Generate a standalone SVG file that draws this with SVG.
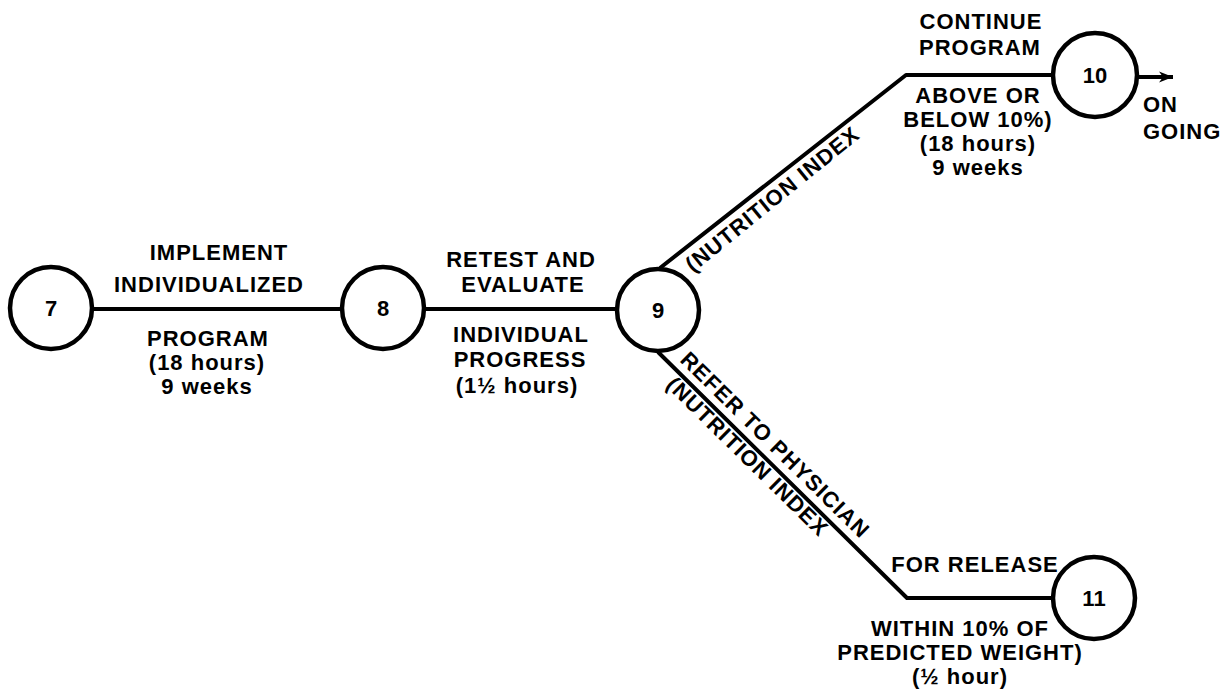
<svg xmlns="http://www.w3.org/2000/svg" width="1224" height="692" viewBox="0 0 1224 692">
  <style>
    .bg { fill: #ffffff; }
    .node { fill: #ffffff; stroke: #000000; stroke-width: 4.5; }
    .num { font-family: "Liberation Sans", Arial, sans-serif; font-weight: bold; font-size: 22px; fill: #000000; text-anchor: middle; }
    .edge { fill: none; stroke: #000000; stroke-width: 4; stroke-linejoin: round; stroke-linecap: butt; }
    .lbl { font-family: "Liberation Sans", Arial, sans-serif; font-weight: bold; font-size: 22px; letter-spacing: 1px; fill: #000000; text-anchor: middle; }
    .lbl-start { text-anchor: start; }
  </style>
  <defs>
    <marker id="arrowhead" markerWidth="16" markerHeight="14" refX="14" refY="7" orient="auto" markerUnits="userSpaceOnUse">
      <path d="M0,1.5 L14,7 L0,12.5 L4,7 Z" fill="#000000"/>
    </marker>
  </defs>

  <rect class="bg" x="0" y="0" width="1224" height="692"/>

  <!-- connectors -->
  <g id="connectors">
    <line class="edge" x1="92" y1="309" x2="342" y2="309"/>
    <line class="edge" x1="424" y1="309" x2="617" y2="309"/>
    <path class="edge" d="M660,268 L906,75 L1053,75"/>
    <path class="edge" d="M658,352 L907,598 L1053,598"/>
    <path class="edge" d="M1137,77 L1173,77" marker-end="url(#arrowhead)"/>
  </g>

  <!-- activity labels -->
  <g id="labels-7-8">
    <text class="lbl" x="219" y="260">IMPLEMENT</text>
    <text class="lbl" x="209" y="292">INDIVIDUALIZED</text>
    <text class="lbl" x="208" y="346">PROGRAM</text>
    <text class="lbl" x="207" y="370">(18 hours)</text>
    <text class="lbl" x="207" y="394">9 weeks</text>
  </g>
  <g id="labels-8-9">
    <text class="lbl" x="521" y="267">RETEST AND</text>
    <text class="lbl" x="523" y="292">EVALUATE</text>
    <text class="lbl" x="521" y="342">INDIVIDUAL</text>
    <text class="lbl" x="520" y="367">PROGRESS</text>
    <text class="lbl" x="517" y="393">(1½ hours)</text>
  </g>
  <g id="labels-9-10">
    <text class="lbl lbl-start" transform="translate(693,273) rotate(-39)">(NUTRITION INDEX</text>
    <text class="lbl" x="981" y="29">CONTINUE</text>
    <text class="lbl" x="980" y="55">PROGRAM</text>
    <text class="lbl" x="978" y="103">ABOVE OR</text>
    <text class="lbl" x="978" y="127">BELOW 10%)</text>
    <text class="lbl" x="978" y="151">(18 hours)</text>
    <text class="lbl" x="978" y="175">9 weeks</text>
    <text class="lbl lbl-start" x="1143" y="112">ON</text>
    <text class="lbl lbl-start" x="1143" y="139">GOING</text>
  </g>
  <g id="labels-9-11">
    <text class="lbl lbl-start" transform="translate(679,361) rotate(44.5)">REFER TO PHYSICIAN</text>
    <text class="lbl lbl-start" transform="translate(665,386) rotate(44.5)">(NUTRITION INDEX</text>
    <text class="lbl" x="975" y="572">FOR RELEASE</text>
    <text class="lbl" x="960" y="636">WITHIN 10% OF</text>
    <text class="lbl" x="960" y="660">PREDICTED WEIGHT)</text>
    <text class="lbl" x="960" y="684">(½ hour)</text>
  </g>

  <!-- event nodes -->
  <g id="node-7">
    <circle class="node" cx="51" cy="308" r="41"/>
    <text class="num" x="51" y="316">7</text>
  </g>
  <g id="node-8">
    <circle class="node" cx="383" cy="308" r="41"/>
    <text class="num" x="383" y="316">8</text>
  </g>
  <g id="node-9">
    <circle class="node" cx="658" cy="310" r="41"/>
    <text class="num" x="658" y="318">9</text>
  </g>
  <g id="node-10">
    <circle class="node" cx="1095" cy="75" r="42"/>
    <text class="num" x="1095" y="83">10</text>
  </g>
  <g id="node-11">
    <circle class="node" cx="1094" cy="598" r="41"/>
    <text class="num" x="1094" y="606">11</text>
  </g>
</svg>
